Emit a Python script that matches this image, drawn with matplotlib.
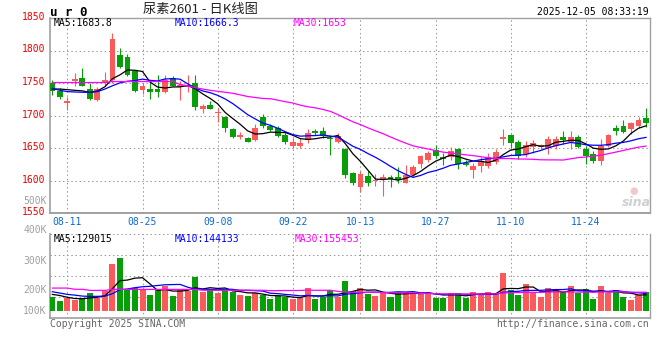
import numpy as np
import pandas as pd
import matplotlib
matplotlib.use("Agg")
import matplotlib.pyplot as plt
from matplotlib.transforms import ScaledTranslation

# ---------------- data ----------------
opens = [1749.8, 1738.5, 1719, 1753, 1757.5, 1741, 1724, 1751, 1755, 1793,
         1790, 1768, 1739.5, 1741, 1741, 1737, 1757.5, 1744, 1743.4, 1750,
         1710, 1717, 1703.6, 1698.5, 1679.6, 1666.8, 1665.3, 1663, 1698.5, 1684.7,
         1681, 1671, 1654, 1654, 1662.6, 1676, 1676, 1666, 1659, 1649,
         1612, 1590.4, 1607, 1599, 1600.5, 1605.6, 1605.6, 1597, 1609.2, 1626,
         1632, 1647.4, 1636, 1637, 1648.5, 1628, 1616.8, 1623, 1623, 1629.6,
         1664.7, 1670.4, 1660, 1641.3, 1652, 1652, 1651, 1653.6, 1667.3, 1660.2,
         1667.3, 1648.5, 1640.8, 1630.6, 1653.6, 1680.6, 1684.2, 1679, 1684.2, 1696]
highs = [1755, 1742, 1729, 1765, 1773, 1750, 1744.7, 1767, 1827.6, 1803.6,
         1795, 1770, 1750, 1752, 1762.6, 1762.6, 1761, 1754, 1762.8, 1762.8,
         1718, 1722, 1711.7, 1700, 1681, 1675.5, 1667, 1688, 1702.6, 1687,
         1684.7, 1674.5, 1666, 1665, 1680, 1680, 1682, 1670, 1673.7, 1650,
         1613.6, 1614.6, 1614.6, 1610.6, 1610.6, 1608.6, 1620.7, 1623.7, 1624.5, 1639.8,
         1646.4, 1655, 1642, 1652.5, 1650, 1632, 1627, 1636, 1643, 1648.5,
         1679.6, 1672, 1662.7, 1661.7, 1662.2, 1657, 1669, 1669, 1676.5, 1676.5,
         1670.4, 1653.6, 1645, 1663.8, 1671.4, 1685.7, 1692.8, 1690.8, 1698.5, 1711.2]
lows = [1732, 1726, 1708, 1746, 1745, 1724, 1722.6, 1745, 1750, 1773,
        1761.6, 1737, 1733, 1726, 1729, 1735, 1745, 1724, 1737, 1708.7,
        1703.6, 1710, 1691, 1674.5, 1666, 1664.3, 1659, 1661, 1681, 1677,
        1667, 1656.6, 1650, 1650, 1657.6, 1671, 1665, 1639, 1657.6, 1604.5,
        1593.4, 1583.3, 1592, 1592, 1576.8, 1590, 1597, 1597, 1606.6, 1619.4,
        1629.6, 1634.7, 1624.5, 1632, 1618, 1622, 1604, 1614, 1619.4, 1625.5,
        1655, 1650, 1633, 1636, 1643.4, 1648.5, 1641.8, 1648.5, 1656, 1648.5,
        1650, 1625.5, 1628, 1624.5, 1652, 1670.4, 1673, 1672.4, 1681.6, 1682.6]
closes = [1738, 1728, 1723, 1756, 1746, 1725, 1740.5, 1755, 1818, 1775.4,
          1762.6, 1738, 1745.7, 1737, 1737, 1755, 1746, 1746.5, 1747.5, 1712.8,
          1715, 1711, 1705, 1681, 1666.8, 1670.4, 1660, 1681, 1683.7, 1678.6,
          1668.4, 1659, 1660, 1657.6, 1672.7, 1673.7, 1669, 1663.6, 1669, 1608.6,
          1597, 1610.6, 1596, 1600.5, 1605.6, 1602, 1601, 1609.6, 1621, 1638.3,
          1643.4, 1638.3, 1633, 1645, 1626, 1624.5, 1623, 1631, 1636, 1644,
          1666.8, 1658.7, 1638, 1655, 1658.7, 1654.6, 1663.8, 1663.8, 1662.2, 1667.3,
          1652, 1638.3, 1630.6, 1653.6, 1670, 1676.5, 1675.5, 1688.3, 1693.4, 1688.3]
volumes = [112000, 79000, 104000, 90000, 107000, 145000, 107000, 164000, 386000, 433000,
           170000, 186000, 181000, 129000, 170000, 205000, 123000, 178000, 159000, 277000,
           156000, 175000, 148000, 178000, 156000, 129000, 123000, 145000, 129000, 99000,
           121000, 110000, 99000, 110000, 186000, 99000, 110000, 170000, 110000, 244000,
           162000, 186000, 140000, 123000, 153000, 112000, 153000, 153000, 142000, 145000,
           145000, 107000, 107000, 145000, 145000, 107000, 153000, 137000, 153000, 145000,
           310000, 170000, 129000, 219000, 145000, 115000, 186000, 167000, 153000, 203000,
           145000, 178000, 99000, 203000, 145000, 170000, 115000, 88000, 126000, 153000]

# moving-average values before enough history is visible
ma5_head = [1741, 1741, 1740, 1739]
ma10_head = [1742, 1739, 1737, 1736.5, 1736, 1736, 1737, 1741, 1746]
ma30_head = [1751, 1751, 1751, 1751, 1751, 1751, 1751, 1751, 1752.5, 1752.5,
             1752.5, 1752.5, 1752.5, 1752.5, 1752.5, 1752.5, 1752.5, 1748, 1746, 1743,
             1741, 1739, 1737.5, 1736, 1734.5, 1732, 1729.5, 1728, 1726.5]
vma5_head = [134000, 125000, 110000, 100000]
vma10_head = [156000, 145000, 134000, 128000, 120000, 118000, 118000, 120000, 140000]
vma30_head = [186000, 186000, 186000, 176000, 176000, 167000, 167000, 167000, 175000, 175000,
              175000, 175000, 175000, 175000, 175000, 175000, 175000, 175000, 175000, 175000,
              168000, 168000, 168000, 168000, 168000, 168000, 168000, 168000, 168000]

tick_labels = ['08-11', '08-25', '09-08', '09-22', '10-13', '10-27', '11-10', '11-24']
price_ticks = [1550, 1600, 1650, 1700, 1750, 1800, 1850]
vol_labels = ['500K', '400K', '300K', '200K', '100K']

title_code = 'u r 0'
title_text = '尿素2601 - 日K线图'
timestamp = '2025-12-05 08:33:19'
ma_texts = ['MA5:1683.8', 'MA10:1666.3', 'MA30:1653']
vma_texts = ['MA5:129015', 'MA10:144133', 'MA30:155453']

# ---------------- helpers ----------------
def ma(vals, n, head):
    m = pd.Series(vals, dtype=float).rolling(n).mean().to_numpy()
    m[:len(head)] = head
    return m

dates = pd.bdate_range('2025-08-07', '2025-12-04')
dates = dates[(dates < '2025-10-01') | (dates > '2025-10-08')]
date_strs = list(dates.strftime('%m-%d'))
tick_pos = [date_strs.index(t) for t in tick_labels]

o = np.array(opens); h = np.array(highs); l = np.array(lows); c = np.array(closes)
v = np.array(volumes, dtype=float)
x = np.arange(len(c))

RED = '#fa5a5a'
GREEN = '#089e08'
GRID = '#9a9a9a'
SPINE = '#a0a0a0'
MONO = 'DejaVu Sans Mono'

W, H = 660, 360
fig = plt.figure(figsize=(6.6, 3.6), dpi=100)
fig.patch.set_facecolor('white')

def fx(px):
    return px / W

def fy(py):
    return 1 - py / H

ax = fig.add_axes([fx(50), fy(213.3), fx(650) - fx(50), fy(18.1) - fy(213.3)])
axv = fig.add_axes([fx(50), fy(317.7), fx(650) - fx(50), fy(234.3) - fy(317.7)])

xlim = (-0.31, 79.53)
grid_kw = dict(color=GRID, lw=0.75, linestyle=(0, (1.4, 2.6)), zorder=0)

# ---------------- price panel ----------------
up = c >= o
cols = np.where(up, RED, GREEN)
ax.vlines(x, l, h, colors=cols, lw=0.8, zorder=3)
body_bottom = np.minimum(o, c)
body_h = np.maximum(np.abs(c - o), 1.3)
ax.bar(x, body_h, 0.78, bottom=body_bottom, color=cols, linewidth=0, zorder=4)

ax.plot(x, ma(c, 5, ma5_head), color='black', lw=0.9, zorder=5)
ax.plot(x, ma(c, 10, ma10_head), color='#0000ff', lw=0.9, zorder=5)
ax.plot(x, ma(c, 30, ma30_head), color='#ff00ff', lw=0.9, zorder=5)

ax.set_xlim(*xlim)
ax.set_ylim(1550, 1850)
ax.set_yticks(price_ticks)
ax.set_yticklabels([str(t) for t in price_ticks], color='#ee0000',
                   fontsize=7, family=MONO)
ax.set_xticks(tick_pos)
ax.set_xticklabels(tick_labels, color='#0a6ad6', fontsize=7, family=MONO)
ax.tick_params(axis='both', length=0)
ax.tick_params(axis='y', pad=3.0)
ax.tick_params(axis='x', pad=3.0)
for lbl in ax.get_yticklabels():
    lbl.set_transform(lbl.get_transform() + ScaledTranslation(0, 0.022, fig.dpi_scale_trans))
for t in tick_pos:
    ax.axvline(t, **grid_kw)
for p in price_ticks[1:-1]:
    ax.axhline(p, **grid_kw)
for s in ax.spines.values():
    s.set_color(SPINE)
    s.set_linewidth(1.0)
ax.spines['bottom'].set_linewidth(1.4)
ax.spines['left'].set_linewidth(1.2)

# ---------------- volume panel ----------------
axv.bar(x, v, 0.8, color=cols, linewidth=0, zorder=3)
axv.plot(x, ma(v, 5, vma5_head), color='black', lw=0.9, zorder=5)
axv.plot(x, ma(v, 10, vma10_head), color='#0000ff', lw=0.9, zorder=5)
axv.plot(x, ma(v, 30, vma30_head), color='#ff00ff', lw=0.9, zorder=5)
axv.set_xlim(*xlim)
axv.set_ylim(-57500, 628000)
axv.set_xticks([])
axv.set_yticks([])
for t in tick_pos:
    axv.axvline(t, **grid_kw)
for f in (0.25, 0.5, 0.75, 1.0):
    axv.plot([0, 1], [f, f], transform=axv.transAxes, **grid_kw)
for s in axv.spines.values():
    s.set_color(SPINE)
    s.set_linewidth(1.0)
axv.spines['top'].set_visible(False)
axv.spines['left'].set_linewidth(1.2)
axv.spines['bottom'].set_linewidth(1.2)

# ---------------- texts ----------------
vol_label_y = [200.7, 230, 260.7, 290, 310.7]
for t, yy in zip(vol_labels, vol_label_y):
    fig.text(fx(46.5), fy(yy), t, ha='right', va='center', color='#a0a0a0',
             fontsize=7, family=MONO)

fig.text(fx(50), fy(12), title_code, ha='left', va='center', color='black',
         fontsize=9, family=MONO, fontweight='bold')
fig.text(fx(200), fy(9.5), title_text, ha='center', va='center', color='#222222',
         fontsize=9.5, family=['Noto Sans CJK SC', 'DejaVu Sans'])
fig.text(fx(649), fy(11.7), timestamp, ha='right', va='center', color='black',
         fontsize=7, family=MONO)

ma_cols = ['black', '#0000ff', '#ff00ff']
for t, xx, col in zip(ma_texts, [54, 175, 294], ma_cols):
    fig.text(fx(xx), fy(23.5), t, ha='left', va='center', color=col,
             fontsize=7, family=MONO)
for t, xx, col in zip(vma_texts, [54, 175, 295], ma_cols):
    fig.text(fx(xx), fy(238.5), t, ha='left', va='center', color=col,
             fontsize=7, family=MONO)

fig.text(fx(50), fy(324), 'Copyright 2025 SINA.COM', ha='left', va='center',
         color='#666666', fontsize=7, family=MONO)
fig.text(fx(649), fy(324), 'http://finance.sina.com.cn', ha='right', va='center',
         color='#666666', fontsize=7, family=MONO)

# watermark
fig.text(fx(634), fy(191), '●', ha='center', va='center', color='#f2c8c8',
         fontsize=7, family='DejaVu Sans')
fig.text(fx(636), fy(202), 'sina', ha='center', va='center', color='#d0d0d0',
         fontsize=9, family='DejaVu Sans', fontweight='bold', style='italic')

fig.savefig('out.png', dpi=100, facecolor='white')
